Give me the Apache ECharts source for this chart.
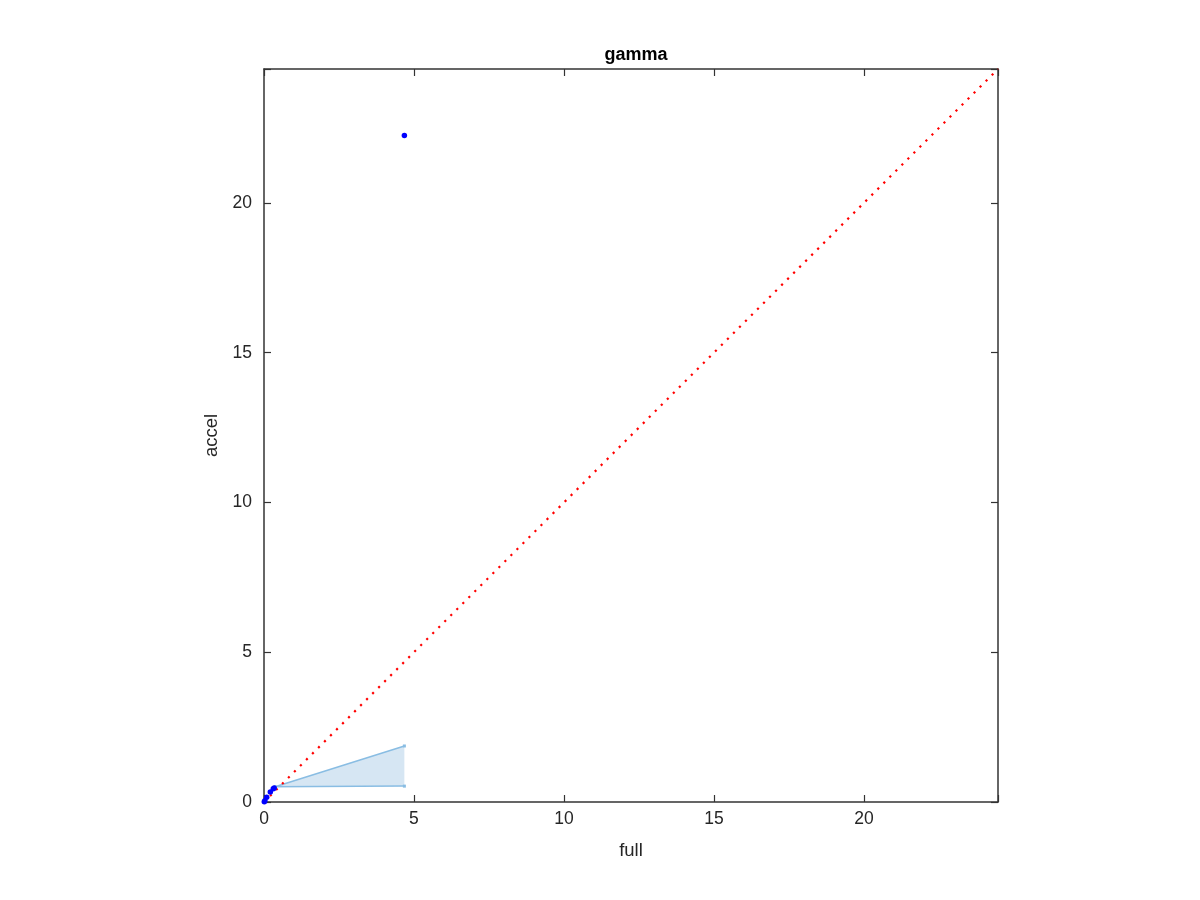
<!DOCTYPE html>
<html><head><meta charset="utf-8">
<script src="https://cdn.jsdelivr.net/npm/echarts@6/dist/echarts.min.js"></script>
<style>html,body{margin:0;padding:0;background:#fff}#c{width:1200px;height:900px}</style>
</head><body><div id="c"></div>
<script>
const titleText = 'gamma';
const xName = 'full';
const yName = 'accel';
const axisMax = 24.47;
const tickValues = [0, 5, 10, 15, 20];
// blue points (full, accel)
const pointsX = [0.01, 0.03, 0.09, 0.21, 0.31, 0.34, 4.68];
const pointsY = [0.01, 0.04, 0.16, 0.33, 0.44, 0.47, 22.25];
// shaded region vertices
const shadeX = [0.37, 4.68, 4.68];
const shadeY = [0.51, 1.87, 0.53];
// identity reference line
const refX = [0, 24.47];
const refY = [0, 24.47];

const chart = echarts.init(document.getElementById('c'));
const font = 'Helvetica, Arial, "Liberation Sans", sans-serif';
const axBase = {
  type: 'value', min: 0, max: axisMax, interval: 5,
  splitLine: {show: false},
  axisLine: {show: true, onZero: false, lineStyle: {color: '#333', width: 1.5}},
  axisTick: {show: true, inside: true, length: 7, lineStyle: {color: '#333', width: 1.2}},
  axisLabel: {show: true, color: '#262626', fontSize: 17.5, fontFamily: font,
    formatter: v => tickValues.includes(v) ? String(v) : ''}
};
chart.setOption({
  animation: false,
  title: {text: titleText, left: 631, top: 41, textAlign: 'center',
    textStyle: {fontSize: 18, fontWeight: 'bold', color: '#000', fontFamily: font}},
  grid: {left: 264, right: 202, top: 69, bottom: 98},
  xAxis: [
    Object.assign({}, axBase, {position: 'bottom', name: xName, nameLocation: 'middle', nameGap: 39,
      nameTextStyle: {fontSize: 18.5, color: '#262626', fontFamily: font},
      axisLabel: Object.assign({}, axBase.axisLabel, {margin: 8})}),
    Object.assign({}, axBase, {position: 'top', axisLabel: {show: false}})
  ],
  yAxis: [
    Object.assign({}, axBase, {position: 'left', name: yName, nameLocation: 'middle', nameGap: 43,
      nameTextStyle: {fontSize: 18.5, color: '#262626', fontFamily: font},
      axisLabel: Object.assign({}, axBase.axisLabel, {margin: 12})}),
    Object.assign({}, axBase, {position: 'right', axisLabel: {show: false}})
  ],
  series: [
    {
      type: 'custom', xAxisIndex: 0, yAxisIndex: 0, z: 2,
      data: [0],
      renderItem: function (params, api) {
        const pts = shadeX.map((x, i) => api.coord([x, shadeY[i]]));
        const children = [{
          type: 'polygon', shape: {points: pts},
          style: {fill: '#d6e6f3', stroke: null}
        }, {
          type: 'polyline', shape: {points: [pts[1], pts[0], pts[2]]},
          style: {fill: null, stroke: '#89bde3', lineWidth: 1.5}
        }];
        pts.forEach(p => children.push({type: 'rect', shape: {x: p[0]-1.5, y: p[1]-1.5, width: 3, height: 3},
          style: {fill: '#89bde3'}}));
        return {type: 'group', children: children};
      }
    },
    {
      type: 'line', z: 3, data: refX.map((x, i) => [x, refY[i]]), symbol: 'none',
      lineStyle: {color: '#ff0000', width: 2.2, type: [2.2, 6.3]}
    },
    {
      type: 'scatter', z: 4, data: pointsX.map((x, i) => [x, pointsY[i]]),
      symbol: 'circle', symbolSize: 5.5, itemStyle: {color: '#0000ff', opacity: 1}
    }
  ]
});
</script></body></html>
